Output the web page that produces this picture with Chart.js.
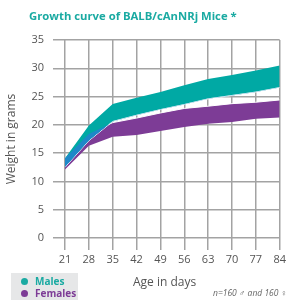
<!DOCTYPE html>
<html>
<head>
<meta charset="utf-8">
<script src="https://cdn.jsdelivr.net/npm/chart.js@4"></script>
<style>
  body { margin: 0; background: #fff; font-family: "Open Sans", sans-serif; }
  #wrap { position: relative; width: 289px; height: 300px; }
  #title { position: absolute; left: 29px; top: 8px; font-size: 11.3px; font-weight: bold; color: #1aaaa2; white-space: nowrap; }
  #xtitle { position: absolute; left: 133px; top: 273px; font-size: 12px; color: #555; }
  #legend { position: absolute; left: 11px; top: 273px; width: 67px; height: 27px; background: #e6e7e8; font-size: 10px; font-weight: bold; }
  #legend div { position: absolute; left: 10px; white-space: nowrap; }
  #legend span { display: inline-block; width: 7px; height: 7px; border-radius: 50%; margin-right: 7px; }
  #note { position: absolute; left: 213px; top: 287px; font-size: 8.5px; font-style: italic; color: #666; white-space: nowrap; }
</style>
</head>
<body>
<div id="wrap">
  <canvas id="growth" width="289" height="300"></canvas>
  <div id="title">Growth curve of BALB/cAnNRj Mice *</div>
  <div id="xtitle">Age in days</div>
  <div id="legend">
    <div style="top:1px;color:#1aaaa2"><span style="background:#1aaaa2"></span>Males</div>
    <div style="top:13px;color:#7d3c96"><span style="background:#7d3c96"></span>Females</div>
  </div>
  <div id="note">n=160 ♂ and 160 ♀</div>
</div>
<script>
// Age in days
const days = [21, 28, 35, 42, 49, 56, 63, 70, 77, 84];

// Weight range (g)
const malesUpper = [14.1, 19.9, 23.7, 24.8, 25.8, 27.0, 28.1, 28.8, 29.6, 30.5];
const malesLower = [12.5, 17.2, 20.6, 21.7, 22.7, 23.6, 24.6, 25.2, 25.8, 26.6];
const femalesUpper = [14.1, 18.4, 20.4, 21.2, 22.1, 22.9, 23.3, 23.75, 24.0, 24.4];
const femalesLower = [12.1, 16.3, 17.9, 18.2, 18.9, 19.6, 20.2, 20.5, 21.1, 21.3];

const teal = '#00a9a4';
const purple = '#7d3c96';
const blue = '#1e88c8';
const grid = '#a3a3a3';

const pts = vals => days.map((d, i) => ({ x: d, y: vals[i] }));

const ctx = document.getElementById('growth').getContext('2d');
new Chart(ctx, {
    type: 'line',
    data: {
        datasets: [
            // where the two bands overlap
            { data: pts(femalesUpper), borderWidth: 0, pointRadius: 0, order: 0,
              fill: { target: 2, above: blue, below: 'rgba(0,0,0,0)' } },
            // males band
            { data: pts(malesUpper), borderWidth: 0, pointRadius: 0, order: 1,
              fill: { target: 2, above: teal, below: teal } },
            { data: pts(malesLower), borderColor: '#fff', borderWidth: 1, pointRadius: 0, order: 0, fill: false },
            // females band
            { data: pts(femalesUpper), borderColor: '#fff', borderWidth: 1, pointRadius: 0, order: 2,
              fill: { target: 4, above: purple, below: purple } },
            { data: pts(femalesLower), borderWidth: 0, pointRadius: 0, order: 3, fill: false }
        ]
    },
    options: {
        responsive: false,
        animation: false,
        layout: { padding: { top: 40, right: 4, left: 0, bottom: 0 } },
        plugins: { legend: { display: false }, tooltip: { enabled: false } },
        elements: { line: { tension: 0 } },
        scales: {
            x: {
                type: 'linear',
                min: 21, max: 84,
                afterFit: s => { s.height = 62; },
                border: { display: false },
                grid: { color: grid, lineWidth: 1.5, tickLength: 12 },
                ticks: { stepSize: 7, color: '#555', padding: 3, font: { family: 'Open Sans', size: 11 } }
            },
            y: {
                min: 0, max: 35,
                afterFit: s => { s.width = 65; },
                border: { display: false },
                grid: { color: grid, lineWidth: 1.5, tickLength: 12 },
                ticks: { stepSize: 5, color: '#555', padding: 9, font: { family: 'Open Sans', size: 11 } },
                title: { display: true, text: 'Weight in grams', color: '#555', padding: { top: 4 },
                         font: { family: 'Open Sans', size: 12 } }
            }
        }
    }
});
</script>
</body>
</html>
